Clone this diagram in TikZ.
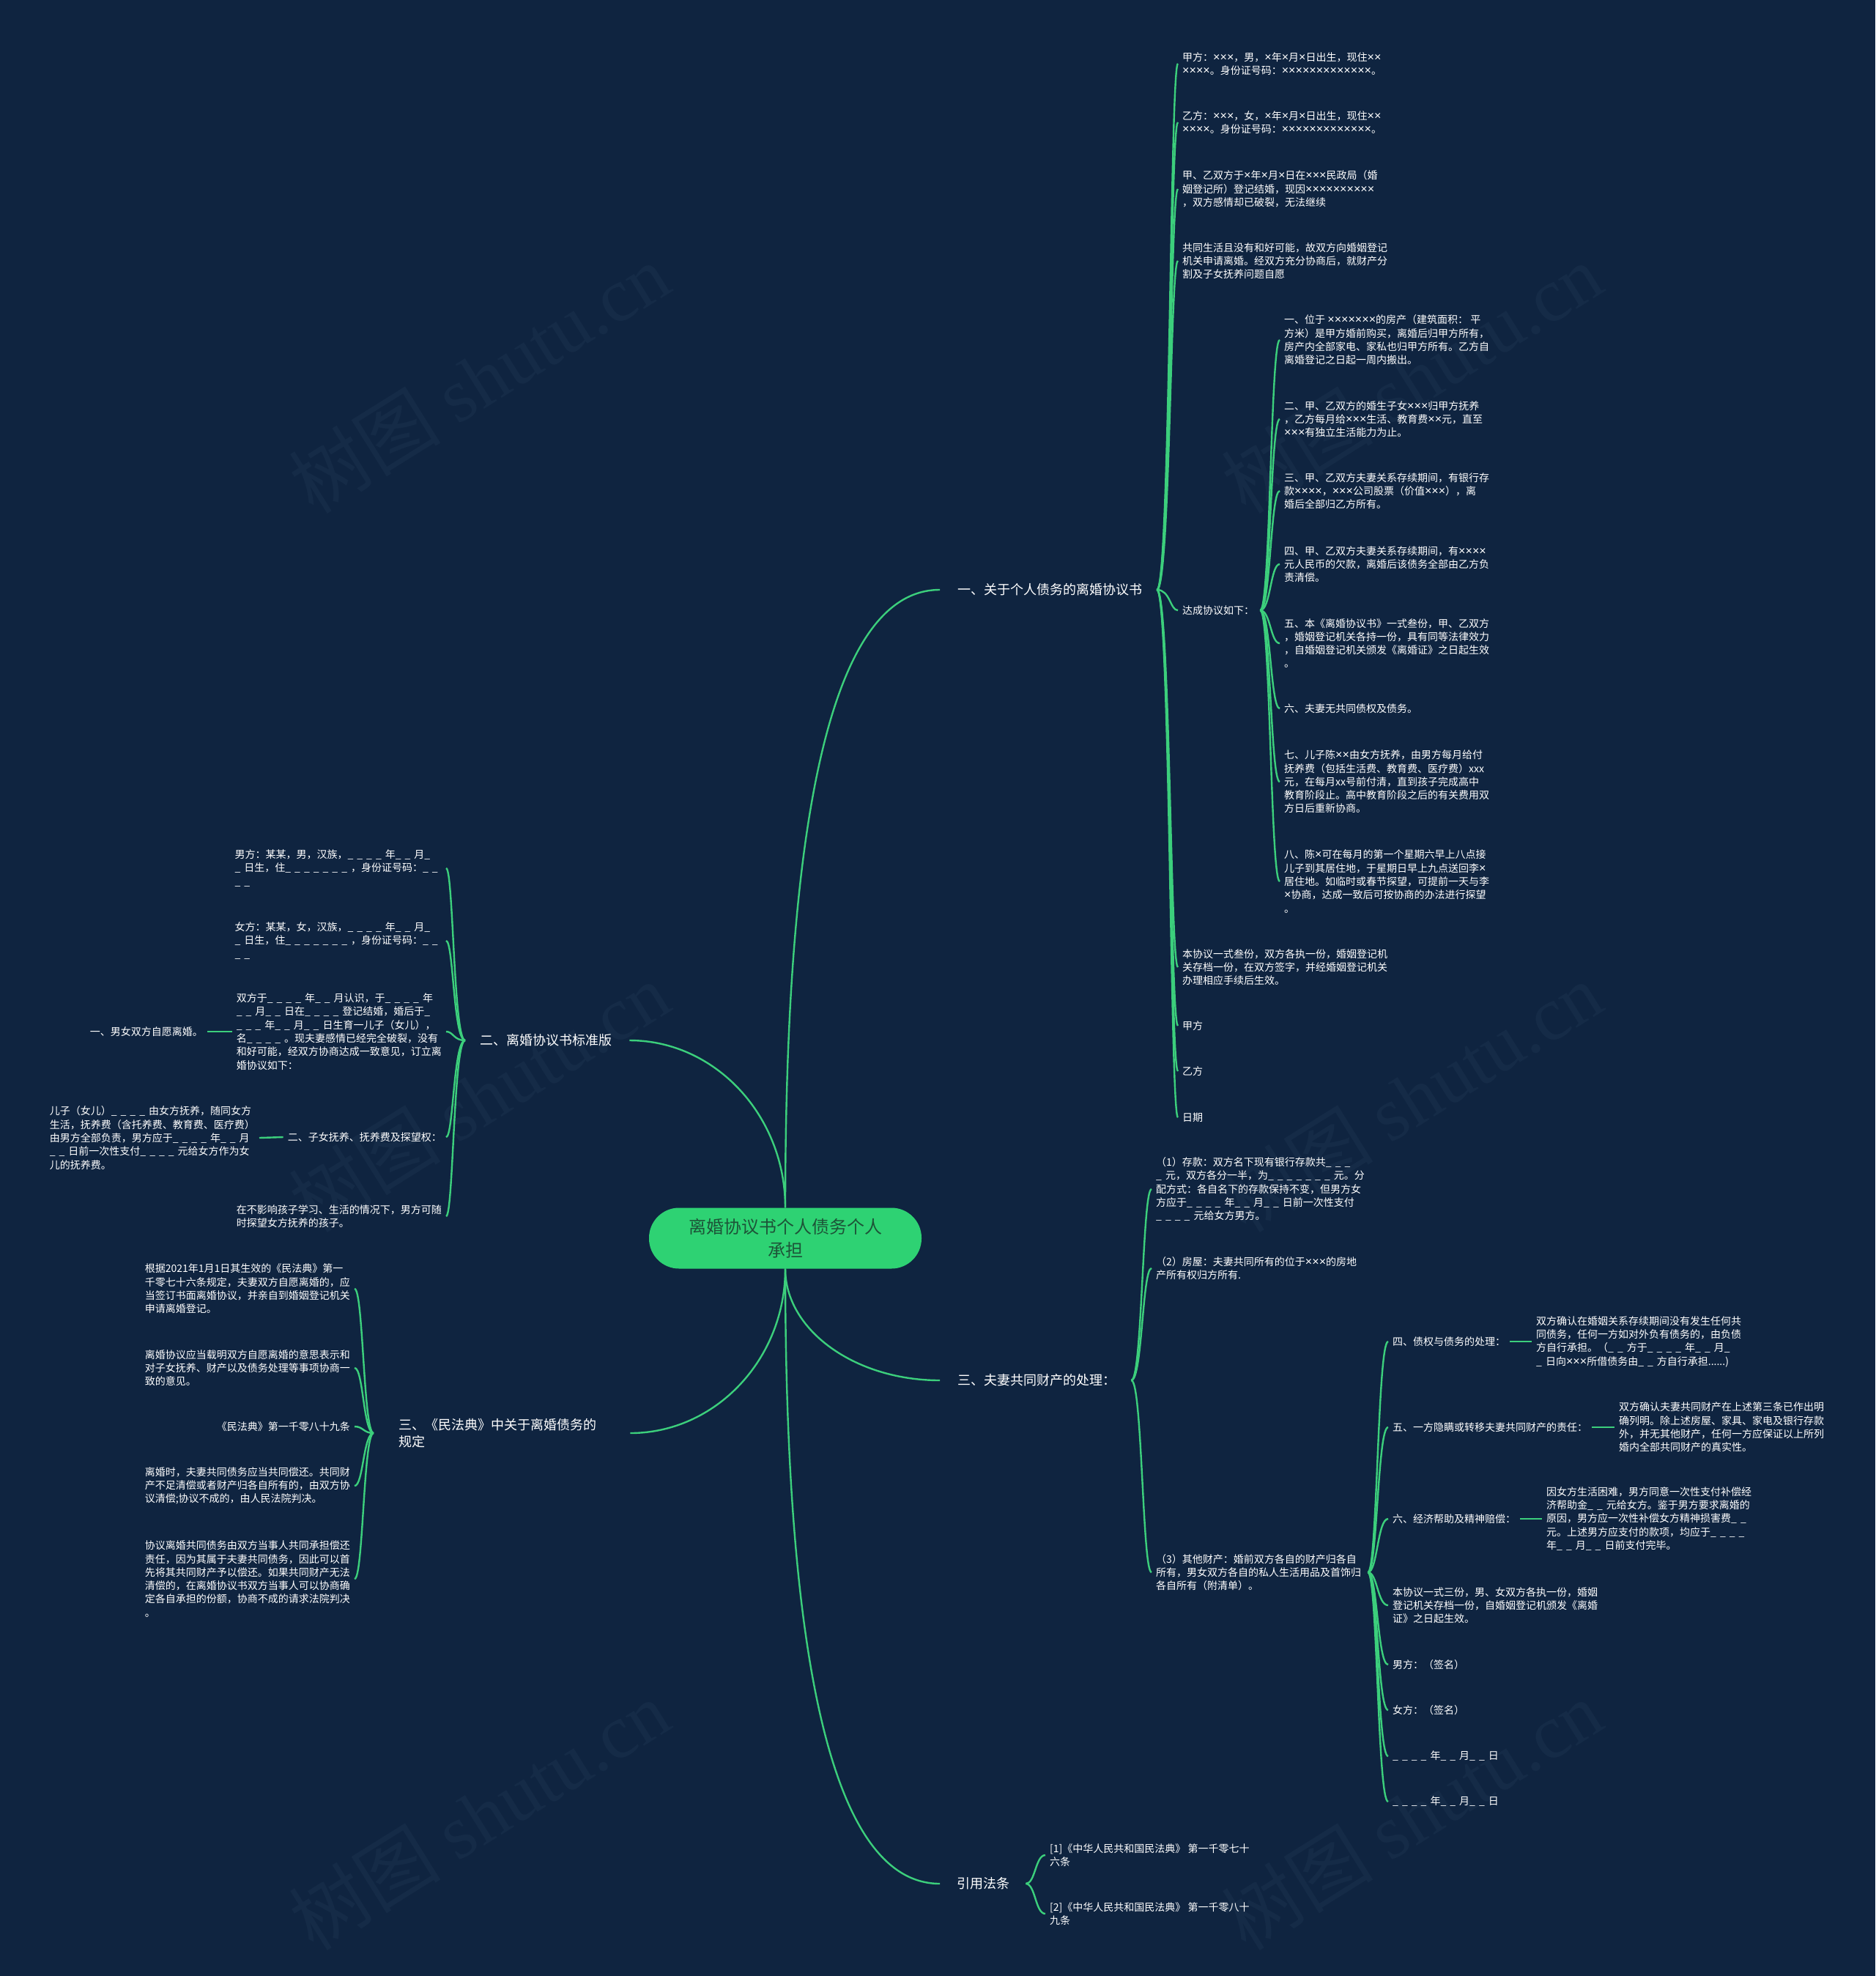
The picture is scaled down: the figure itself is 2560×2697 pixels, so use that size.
\documentclass[tikz,border=0pt]{standalone}
\usepackage{fontspec}
\setmainfont{Noto Sans CJK SC}
\newfontfamily\wmserif{Liberation Serif}
\newfontfamily\xfont{Liberation Sans}[Scale=1.15]
\usetikzlibrary{calc}
\definecolor{bgc}{HTML}{0F2440}
\definecolor{edgec}{HTML}{3CCF7C}
\definecolor{rootc}{HTML}{2ED273}
\definecolor{roottext}{HTML}{1D5438}
\definecolor{wmc}{HTML}{152B47}
\newcommand\leaffont{\fontsize{14pt}{18.3pt}\selectfont}
\newcommand\branchfont{\fontsize{18pt}{23.5pt}\selectfont}
\newcommand\rootfont{\fontsize{24pt}{31.5pt}\selectfont}
\newcommand\wmfont{\fontsize{104pt}{104pt}\selectfont}
% multiplication signs and blanks
\newcommand\X[1]{{\xfont#1}}
\newcommand\ud{\_\kern5pt}
\newcommand\U[1]{\ifcase#1\or\ud\or\ud\ud\or\ud\ud\ud\or\ud\ud\ud\ud\or\ud\ud\ud\ud\ud\or\ud\ud\ud\ud\ud\ud\or\ud\ud\ud\ud\ud\ud\ud\fi}
\tikzset{
  edge/.style={draw=edgec, line width=2.4pt},
  leaf/.style={text=white, font=\leaffont, align=left, inner xsep=6pt, inner ysep=2pt},
  brlabel/.style={text=white, font=\branchfont, align=left, inner xsep=0pt, inner ysep=2pt},
  rootnode/.style={fill=rootc, text=roottext, font=\rootfont, align=center, minimum width=372pt, minimum height=83pt, rounded corners=41pt, inner sep=0pt},
  wmark/.style={text=wmc, font=\wmfont, rotate=32, inner sep=0pt}
}
% right-side bracket connector: parent, child, start offset, spine offset
\newcommand\rcon[4]{\draw[edge] ([xshift=#3]#1.east) .. controls ([xshift=#4]#1.east) and ([xshift=#4]#1.east |- #2.west) .. (#2.west);}
% left-side bracket connector
\newcommand\lcon[4]{\draw[edge] ([xshift=-#3]#1.west) .. controls ([xshift=-#4]#1.west) and ([xshift=-#4]#1.west |- #2.east) .. (#2.east);}
% main curves from the root
\newcommand\lvl[3]{\draw[edge] (#1) .. controls ($(#1)!#3!(#1 |- #2)$) and ($(#2)!#3!(#1 |- #2)$) .. (#2);}
\begin{document}
\begin{tikzpicture}[x=1pt,y=-1pt]
\fill[bgc] (0,0) rectangle (2560,2697);
\useasboundingbox (0,0) rectangle (2560,2697);

% watermarks
\node[wmark] (wm1) at (654,516) {树图 {\wmserif shutu.cn}};
\node[wmark] (wm2) at (1927,516) {树图 {\wmserif shutu.cn}};
\node[wmark] (wm3) at (654,1497) {树图 {\wmserif shutu.cn}};
\node[wmark] (wm4) at (1927,1497) {树图 {\wmserif shutu.cn}};
\node[wmark] (wm5) at (654,2477) {树图 {\wmserif shutu.cn}};
\node[wmark] (wm6) at (1927,2477) {树图 {\wmserif shutu.cn}};

% root
\node[rootnode] (root) at (1072,1690) {离婚协议书个人债务个人\\承担};

% branch labels
\node[brlabel, anchor=west] (b1) at (1307,805) {一、关于个人债务的离婚协议书};
\node[brlabel, anchor=west] (b3) at (1307,1884) {三、夫妻共同财产的处理：};
\node[brlabel, anchor=west] (b5) at (1306,2571) {引用法条};
\node[brlabel, anchor=west] (b2) at (655,1420) {二、离婚协议书标准版};
\node[brlabel, anchor=west] (b4) at (544,1956) {三、《民法典》中关于离婚债务的\\规定};

% branch 1 children
\node[leaf, anchor=west] (c11) at (1608,87) {甲方：\X{×××}，男，\X{×}年\X{×}月\X{×}日出生，现住\X{××}\\\X{××××}。身份证号码：\X{×××××××××××××}。};
\node[leaf, anchor=west] (c12) at (1608,167) {乙方：\X{×××}，女，\X{×}年\X{×}月\X{×}日出生，现住\X{××}\\\X{××××}。身份证号码：\X{×××××××××××××}。};
\node[leaf, anchor=west] (c13) at (1608,258) {甲、乙双方于\X{×}年\X{×}月\X{×}日在\X{×××}民政局（婚\\姻登记所）登记结婚，现因\X{××××××××××}\\，双方感情却已破裂，无法继续};
\node[leaf, anchor=west] (c14) at (1608,356) {共同生活且没有和好可能，故双方向婚姻登记\\机关申请离婚。经双方充分协商后，就财产分\\割及子女抚养问题自愿};
\node[leaf, anchor=west] (c15) at (1608,833) {达成协议如下：};
\node[leaf, anchor=west] (c16) at (1608,1320) {本协议一式叁份，双方各执一份，婚姻登记机\\关存档一份，在双方签字，并经婚姻登记机关\\办理相应手续后生效。};
\node[leaf, anchor=west] (c17) at (1608,1400) {甲方};
\node[leaf, anchor=west] (c18) at (1608,1462) {乙方};
\node[leaf, anchor=west] (c19) at (1608,1525) {日期};

% 达成协议如下 children
\node[leaf, anchor=west] (d1) at (1747,464) {一、位于 \X{×××××××}的房产（建筑面积： 平\\方米）是甲方婚前购买，离婚后归甲方所有，\\房产内全部家电、家私也归甲方所有。乙方自\\离婚登记之日起一周内搬出。};
\node[leaf, anchor=west] (d2) at (1747,572) {二、甲、乙双方的婚生子女\X{×××}归甲方抚养\\，乙方每月给\X{×××}生活、教育费\X{××}元，直至\\\X{×××}有独立生活能力为止。};
\node[leaf, anchor=west] (d3) at (1747,670) {三、甲、乙双方夫妻关系存续期间，有银行存\\款\X{××××}，\X{×××}公司股票（价值\X{×××}），离\\婚后全部归乙方所有。};
\node[leaf, anchor=west] (d4) at (1747,770) {四、甲、乙双方夫妻关系存续期间，有\X{××××}\\元人民币的欠款，离婚后该债务全部由乙方负\\责清偿。};
\node[leaf, anchor=west] (d5) at (1747,878) {五、本《离婚协议书》一式叁份，甲、乙双方\\，婚姻登记机关各持一份，具有同等法律效力\\，自婚姻登记机关颁发《离婚证》之日起生效\\。};
\node[leaf, anchor=west] (d6) at (1747,967) {六、夫妻无共同债权及债务。};
\node[leaf, anchor=west] (d7) at (1747,1067) {七、儿子陈\X{××}由女方抚养，由男方每月给付\\抚养费（包括生活费、教育费、医疗费）xxx\\元，在每月xx号前付清，直到孩子完成高中\\教育阶段止。高中教育阶段之后的有关费用双\\方日后重新协商。};
\node[leaf, anchor=west] (d8) at (1747,1203) {八、陈\X{×}可在每月的第一个星期六早上八点接\\儿子到其居住地，于星期日早上九点送回李\X{×}\\居住地。如临时或春节探望，可提前一天与李\\\X{×}协商，达成一致后可按协商的办法进行探望\\。};

% branch 3 children
\node[leaf, anchor=west] (e1) at (1572,1623) {（1）存款：双方名下现有银行存款共\U{3}\\\U{1}元，双方各分一半，为\U{7}元。分\\配方式：各自名下的存款保持不变，但男方女\\方应于\U{4}年\U{2}月\U{2}日前一次性支付\\\U{4}元给女方男方。};
\node[leaf, anchor=west] (e2) at (1572,1731) {（2）房屋：夫妻共同所有的位于\X{×××}的房地\\产所有权归方所有.};
\node[leaf, anchor=west] (e3) at (1572,2146) {（3）其他财产：婚前双方各自的财产归各自\\所有，男女双方各自的私人生活用品及首饰归\\各自所有（附清单）。};

% (3) children
\node[leaf, anchor=west] (f1) at (1895,1831) {四、债权与债务的处理：};
\node[leaf, anchor=west] (f2) at (1895,1948) {五、一方隐瞒或转移夫妻共同财产的责任：};
\node[leaf, anchor=west] (f3) at (1895,2073) {六、经济帮助及精神赔偿：};
\node[leaf, anchor=west] (f4) at (1895,2191) {本协议一式三份，男、女双方各执一份，婚姻\\登记机关存档一份，自婚姻登记机颁发《离婚\\证》之日起生效。};
\node[leaf, anchor=west] (f5) at (1895,2272) {男方：（签名）};
\node[leaf, anchor=west] (f6) at (1895,2334) {女方：（签名）};
\node[leaf, anchor=west] (f7) at (1895,2397) {\U{4}年\U{2}月\U{2}日};
\node[leaf, anchor=west] (f8) at (1895,2459) {\U{4}年\U{2}月\U{2}日};

\node[leaf, anchor=west] (g1) at (2091,1831) {双方确认在婚姻关系存续期间没有发生任何共\\同债务，任何一方如对外负有债务的，由负债\\方自行承担。（\U{2}方于\U{4}年\U{2}月\U{1}\\\U{1}日向\X{×××}所借债务由\U{2}方自行承担......)};
\node[leaf, anchor=west] (g2) at (2204,1948) {双方确认夫妻共同财产在上述第三条已作出明\\确列明。除上述房屋、家具、家电及银行存款\\外，并无其他财产，任何一方应保证以上所列\\婚内全部共同财产的真实性。};
\node[leaf, anchor=west] (g3) at (2105,2073) {因女方生活困难，男方同意一次性支付补偿经\\济帮助金\U{2}元给女方。鉴于男方要求离婚的\\原因，男方应一次性补偿女方精神损害费\U{2}\\元。上述男方应支付的款项，均应于\U{4}\\年\U{2}月\U{2}日前支付完毕。};

% branch 2 children (left)
\node[leaf, anchor=east] (h1) at (609,1185) {男方：某某，男，汉族，\U{4}年\U{2}月\U{1}\\\U{1}日生，住\U{7}，身份证号码：\U{2}\\\U{2}};
\node[leaf, anchor=east] (h2) at (609,1284) {女方：某某，女，汉族，\U{4}年\U{2}月\U{1}\\\U{1}日生，住\U{7}，身份证号码：\U{2}\\\U{2}};
\node[leaf, anchor=east] (h3) at (609,1408) {双方于\U{4}年\U{2}月认识，于\U{4}年\\\U{2}月\U{2}日在\U{4}登记结婚，婚后于\U{1}\\\U{3}年\U{2}月\U{2}日生育一儿子（女儿），\\名\U{4}。现夫妻感情已经完全破裂，没有\\和好可能，经双方协商达成一致意见，订立离\\婚协议如下：};
\node[leaf, anchor=east] (h4) at (609,1552) {二、子女抚养、抚养费及探望权：};
\node[leaf, anchor=east] (h5) at (609,1660) {在不影响孩子学习、生活的情况下，男方可随\\时探望女方抚养的孩子。};
\node[leaf, anchor=east] (i1) at (283,1408) {一、男女双方自愿离婚。};
\node[leaf, anchor=east] (i2) at (354,1553) {儿子（女儿）\U{4}由女方抚养，随同女方\\生活，抚养费（含托养费、教育费、医疗费）\\由男方全部负责，男方应于\U{4}年\U{2}月\\\U{2}日前一次性支付\U{4}元给女方作为女\\儿的抚养费。};

% branch 4 children (left)
\node[leaf, anchor=east] (j1) at (484,1759) {根据2021年1月1日其生效的《民法典》第一\\千零七十六条规定，夫妻双方自愿离婚的，应\\当签订书面离婚协议，并亲自到婚姻登记机关\\申请离婚登记。};
\node[leaf, anchor=east] (j2) at (484,1867) {离婚协议应当载明双方自愿离婚的意思表示和\\对子女抚养、财产以及债务处理等事项协商一\\致的意见。};
\node[leaf, anchor=east] (j3) at (484,1947) {《民法典》第一千零八十九条};
\node[leaf, anchor=east] (j4) at (484,2028) {离婚时，夫妻共同债务应当共同偿还。共同财\\产不足清偿或者财产归各自所有的，由双方协\\议清偿;协议不成的，由人民法院判决。};
\node[leaf, anchor=east] (j5) at (484,2155) {协议离婚共同债务由双方当事人共同承担偿还\\责任，因为其属于夫妻共同债务，因此可以首\\先将其共同财产予以偿还。如果共同财产无法\\清偿的，在离婚协议书双方当事人可以协商确\\定各自承担的份额，协商不成的请求法院判决\\。};

% branch 5 children
\node[leaf, anchor=west] (k1) at (1427,2532) {[1]《中华人民共和国民法典》 第一千零七十\\六条};
\node[leaf, anchor=west] (k2) at (1427,2612) {[2]《中华人民共和国民法典》 第一千零八十\\九条};

% connector end coordinates near branch labels
\coordinate (b1L) at ([xshift=-24pt]b1.west);
\coordinate (b3L) at ([xshift=-24pt]b3.west);
\coordinate (b5L) at ([xshift=-23pt]b5.west);
\coordinate (b2R) at ([xshift=24pt]b2.east);
\coordinate (b4R) at ([xshift=46pt]b4.east);

% root curves
\lvl{root.north}{b1L}{0.667}
\lvl{root.north}{b2R}{0.55}
\lvl{root.south}{b3L}{0.55}
\lvl{root.south}{b4R}{0.55}
\lvl{root.south}{b5L}{0.667}

% branch 1
\foreach \c in {c11,c12,c13,c14,c15,c16,c17,c18,c19} {\rcon{b1}{\c}{20pt}{38pt}}
\foreach \c in {d1,d2,d3,d4,d5,d6,d7,d8} {\rcon{c15}{\c}{2pt}{16pt}}
% branch 3
\foreach \c in {e1,e2,e3} {\rcon{b3}{\c}{21pt}{36pt}}
\foreach \c in {f1,f2,f3,f4,f5,f6,f7,f8} {\rcon{e3}{\c}{3pt}{16pt}}
\draw[edge] (f1.east) -- (g1.west);
\draw[edge] (f2.east) -- (g2.west);
\draw[edge] (f3.east) -- (g3.west);
% branch 5
\foreach \c in {k1,k2} {\rcon{b5}{\c}{22pt}{35pt}}
% branch 2
\foreach \c in {h1,h2,h3,h4,h5} {\lcon{b2}{\c}{20pt}{36pt}}
\draw[edge] (h3.west) -- (i1.east);
\draw[edge] (h4.west) -- (i2.east);
% branch 4
\foreach \c in {j1,j2,j3,j4,j5} {\lcon{b4}{\c}{34pt}{48pt}}
\end{tikzpicture}
\end{document}
